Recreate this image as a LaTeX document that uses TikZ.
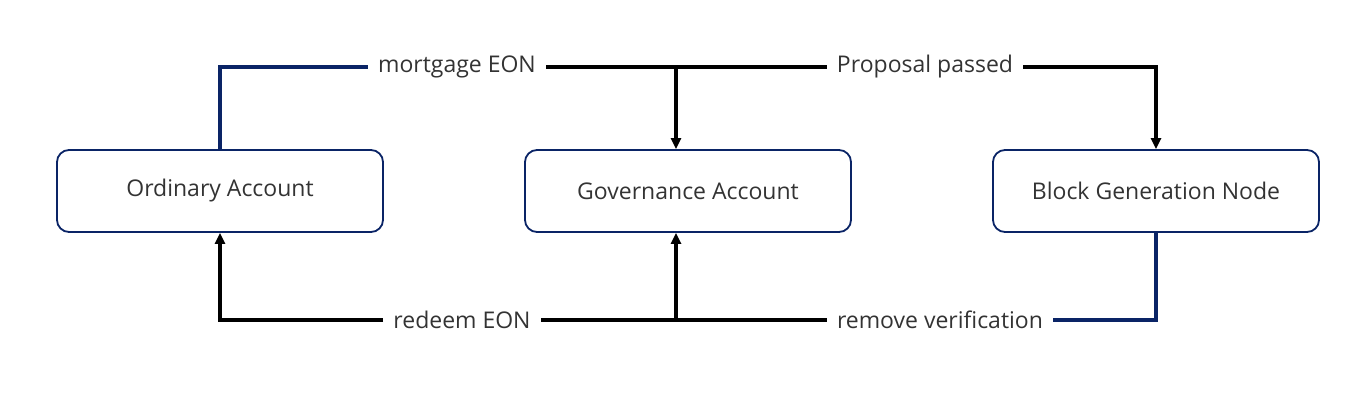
\documentclass[tikz,border=0pt]{standalone}
\usepackage{fontspec}
\setmainfont{Open Sans}
\usetikzlibrary{arrows.meta}
\definecolor{navy}{HTML}{0A2466}
\definecolor{txt}{HTML}{333333}
\begin{document}
\begin{tikzpicture}[x=1pt,y=-1pt,
  acct/.style={draw=navy,line width=1.8pt,rounded corners=12pt,minimum width=326pt,minimum height=82pt,inner sep=0pt,text=txt,font=\fontsize{23}{27}\selectfont},
  lbl/.style={inner xsep=10pt,inner ysep=2pt,text=txt,font=\fontsize{23}{27}\selectfont},
  blk/.style={line width=3.2pt,black},
  nvy/.style={line width=3.2pt,navy},
  arr/.style={-{Triangle[length=11pt,width=10pt]}}]
\useasboundingbox (0,0) rectangle (1366,403);
\node[acct] (b1) at (220,191) {Ordinary Account};
\node[acct] (b2) at (688,191) {Governance Account};
\node[acct] (b3) at (1156,191) {Block Generation Node};
\node[lbl] (l1) at (457,67) {mortgage EON};
\node[lbl] (l2) at (925,67) {Proposal passed};
\node[lbl] (l3) at (462,320) {redeem EON};
\node[lbl] (l4) at (940,320) {remove verification};
\coordinate (j1) at (676,67);
\coordinate (j2) at (676,320);
\draw[nvy] (b1.north) |- (l1.west);
\draw[blk] (l1.east) -- (l2.west);
\draw[blk,arr] (j1) -- (j1 |- b2.north);
\draw[blk,arr] (l2.east) -| (b3.north);
\draw[nvy] (b3.south) |- (l4.east);
\draw[blk] (l4.west) -- (l3.east);
\draw[blk,arr] (j2) -- (j2 |- b2.south);
\draw[blk,arr] (l3.west) -| (b1.south);
\end{tikzpicture}
\end{document}
